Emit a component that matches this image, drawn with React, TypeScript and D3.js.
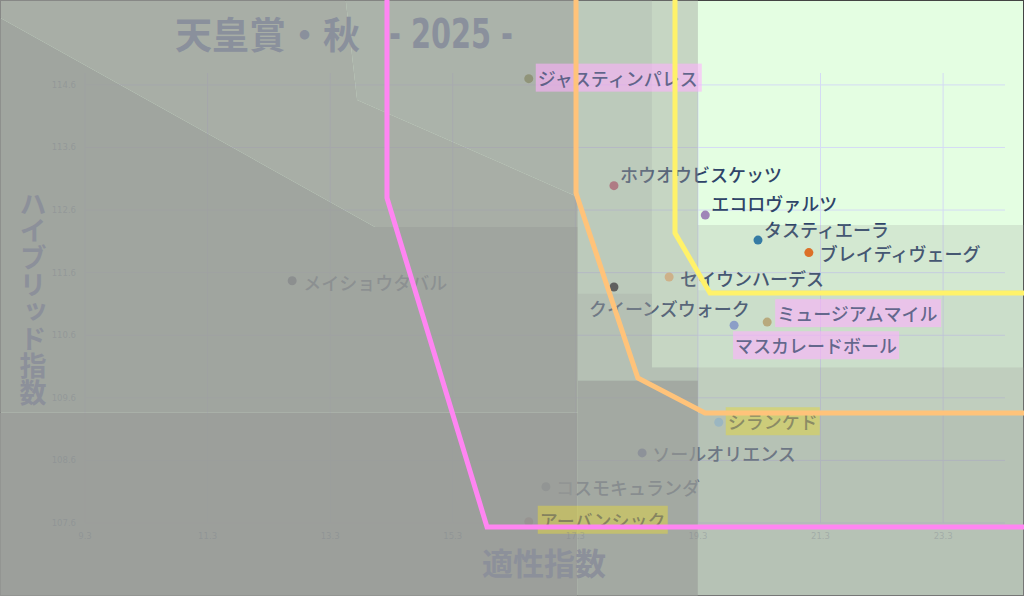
import React from 'react';
import * as d3 from 'd3';

const W = 1024;
const H = 596;

// ---- data ----
const horseNames = [
  'ジャスティンパレス', 'ホウオウビスケッツ', 'エコロヴァルツ', 'タスティエーラ', 'ブレイディヴェーグ',
  'セイウンハーデス', 'クイーンズウォーク', 'ミュージアムマイル', 'マスカレードボール', 'シランケド',
  'ソールオリエンス', 'コスモキュランダ', 'アーバンシック', 'メイショウタバル',
];
const aptitudeIndex = [16.54, 17.93, 19.42, 20.28, 21.11, 18.83, 17.93, 20.43, 19.89, 19.64, 18.39, 16.82, 16.54, 12.68];
const hybridIndex = [114.70, 112.99, 112.52, 112.12, 111.92, 111.53, 111.37, 110.81, 110.76, 109.21, 108.72, 108.18, 107.62, 111.47];
const highlightKind = ['pink', '', '', '', '', '', '', 'pink', 'pink', 'yellow', '', '', 'yellow', ''];
const dotColors = ['#7a8420', '#c85a70', '#9f86b8', '#1a73a8', '#f0650a', '#f0c080', '#222222', '#c8b070', '#85a0dd', '#a0e0ff', '#5565a8', '#303a60', '#803030', '#303858'];

const xTicks = [9.3, 11.3, 13.3, 15.3, 17.3, 19.3, 21.3, 23.3];
const yTicks = [107.6, 108.6, 109.6, 110.6, 111.6, 112.6, 113.6, 114.6];

const pinkFront: [number, number][] = [[14.227, 116.3], [14.227, 112.794], [15.859, 107.536], [25.2, 107.536]];
const orangeFront: [number, number][] = [[17.311, 116.3], [17.311, 112.873], [18.32, 109.917], [19.416, 109.358], [25.2, 109.358]];
const yellowFront: [number, number][] = [[18.926, 116.3], [18.926, 112.234], [19.497, 111.276], [25.2, 111.276]];

// shaded zones (data units) and their opacity
const shadeZones: [number, number][][] = [
  [[19.3, 112.36], [25.2, 112.36], [25.2, 111.32], [19.3, 111.32]],
  [[19.3, 111.32], [25.2, 111.32], [25.2, 110.09], [19.3, 110.09]],
  [[19.3, 110.09], [25.2, 110.09], [25.2, 109.36], [19.3, 109.36]],
  [[19.3, 109.36], [25.2, 109.36], [25.2, 105.9], [19.3, 105.9]],
  [[18.55, 116.5], [19.3, 116.5], [19.3, 110.09], [18.55, 110.09]],
  [[17.34, 116.5], [18.55, 116.5], [18.55, 111.27], [17.34, 111.27]],
  [[17.34, 111.27], [18.55, 111.27], [18.55, 110.09], [19.3, 110.09], [19.3, 109.88], [17.34, 109.88]],
  [[17.34, 109.88], [19.3, 109.88], [19.3, 105.9], [17.34, 105.9]],
  [[13.49, 116.5], [17.34, 116.5], [17.34, 112.81], [13.74, 114.36]],
  [[7.5, 116.5], [13.49, 116.5], [13.74, 114.36], [17.34, 112.81], [17.34, 112.33], [14.03, 112.33], [7.5, 115.9]],
  [[7.5, 115.9], [14.03, 112.33], [17.34, 112.33], [17.34, 109.37], [7.5, 109.37]],
  [[7.5, 109.37], [17.34, 109.37], [17.34, 105.9], [7.5, 105.9]],
];
const shadeAlpha = [0.22, 0.32, 0.48, 0.6, 0.4, 0.52, 0.62, 0.85, 0.75, 0.8, 0.89, 0.95];

// label layout offsets (px, relative to the dot)
const labelDx = [9, 6, 6, 6, 11, 11, -25, 10, 1, 9, 10, 10, 11, 11];
const labelDy = [-1, -12, -12, -11, 0, 1, 21, -9, 20, -1, 0, 0, -2, 1];

const x = d3.scaleLinear().domain([9.3, 24.31]).range([85, 1005]);
const y = d3.scaleLinear().domain([107.6, 114.79]).range([523, 73]);

const FONT = '"Noto Sans CJK JP", "Noto Sans", sans-serif';
const LABEL_SIZE = 18;

export default function App() {
  const line = d3.line<[number, number]>().x(d => x(d[0])).y(d => y(d[1]));
  const poly = (pts: [number, number][]) => line(pts) + 'Z';

  const pts = horseNames.map((name, i) => ({
    name,
    px: x(aptitudeIndex[i]),
    py: y(hybridIndex[i]),
    hl: highlightKind[i],
    color: dotColors[i],
    dx: labelDx[i],
    dy: labelDy[i],
  }));

  return (
    <svg width={W} height={H} style={{ position: 'absolute', left: 0, top: 0 }} xmlns="http://www.w3.org/2000/svg">
      <rect x={0} y={0} width={W} height={H} fill="#e4fee2" />
      {/* grid */}
      <g stroke="#d4dbf4" strokeWidth={1}>
        {xTicks.map(t => (
          <line key={'gx' + t} x1={x(t)} x2={x(t)} y1={y(114.79)} y2={y(107.6)} />
        ))}
        {yTicks.map(t => (
          <line key={'gy' + t} x1={x(9.3)} x2={x(24.31)} y1={y(t)} y2={y(t)} />
        ))}
      </g>
      <rect x={0.5} y={0.5} width={W - 1} height={H - 1} fill="none" stroke="#444" strokeWidth={1} />
      {/* plain labels and dots */}
      <g fontFamily={FONT} fontSize={LABEL_SIZE} fontWeight={500}>
        {pts.map(p => (
          <g key={p.name}>
            <circle cx={p.px} cy={p.py} r={4.5} fill={p.color} />
            {!p.hl && (
              <text x={p.px + p.dx} y={p.py + p.dy} dominantBaseline="central" fill="#2f4468">{p.name}</text>
            )}
          </g>
        ))}
      </g>
      {/* shaded zones */}
      <g fill="#989a97">
        {shadeZones.map((z, i) => (
          <path key={'z' + i} d={poly(z)} fillOpacity={shadeAlpha[i]} />
        ))}
      </g>
      {/* highlighted labels */}
      <g fontFamily={FONT} fontSize={LABEL_SIZE} fontWeight={500}>
        {pts.filter(p => p.hl).map(p => {
          const w = p.name.length * LABEL_SIZE + 4;
          const tx = p.px + p.dx;
          const ty = p.py + p.dy;
          const pink = p.hl === 'pink';
          return (
            <g key={'h' + p.name}>
              <rect x={tx - 2} y={ty - 14} width={w} height={28}
                fill={pink ? '#ffb0ff' : '#e2d640'} fillOpacity={pink ? 0.58 : 0.5} />
              <text x={tx} y={ty} dominantBaseline="central" fill={pink ? '#2f4468' : '#4a4a50'} fillOpacity={pink ? 0.72 : 0.5}>{p.name}</text>
            </g>
          );
        })}
      </g>
      {/* tick labels */}
      <g fontFamily='"DejaVu Sans", sans-serif' fontSize={8.5} fill="#7a7f8c" fillOpacity={0.35}>
        {yTicks.map(t => (
          <text key={'ty' + t} x={x(9.3) - 9} y={y(t)} textAnchor="end" dominantBaseline="central">{t.toFixed(1)}</text>
        ))}
        {xTicks.map(t => (
          <text key={'tx' + t} x={x(t)} y={y(107.6) + 13} textAnchor="middle" dominantBaseline="central">{t.toFixed(1)}</text>
        ))}
      </g>
      {/* axis titles */}
      <text x={544} y={575} textAnchor="middle" fontFamily={FONT} fontSize={31} fontWeight={700} fill="#8c909a">適性指数</text>
      <text x={33} y={190} fontFamily={FONT} fontSize={27} fontWeight={700} fill="#8c909a"
        style={{ writingMode: 'vertical-rl', textOrientation: 'upright' } as React.CSSProperties}>ハイブリッド指数</text>
      {/* title */}
      <text x={175} y={49} fontFamily={FONT} fontSize={37} fontWeight={700} fill="#8a909c">天皇賞・秋</text>
      <text x={389} y={48} fontFamily='"Liberation Sans Narrow", "DejaVu Sans Condensed", sans-serif' fontSize={40} fontWeight={700}
        fill="#8a909c" textLength={124} lengthAdjust="spacingAndGlyphs">- 2025 -</text>
      {/* fronts */}
      <g fill="none" strokeWidth={5} strokeLinejoin="miter">
        <path d={line(pinkFront) || ''} stroke="#ff85f2" />
        <path d={line(orangeFront) || ''} stroke="#ffc37a" />
        <path d={line(yellowFront) || ''} stroke="#fff26a" />
      </g>
    </svg>
  );
}
